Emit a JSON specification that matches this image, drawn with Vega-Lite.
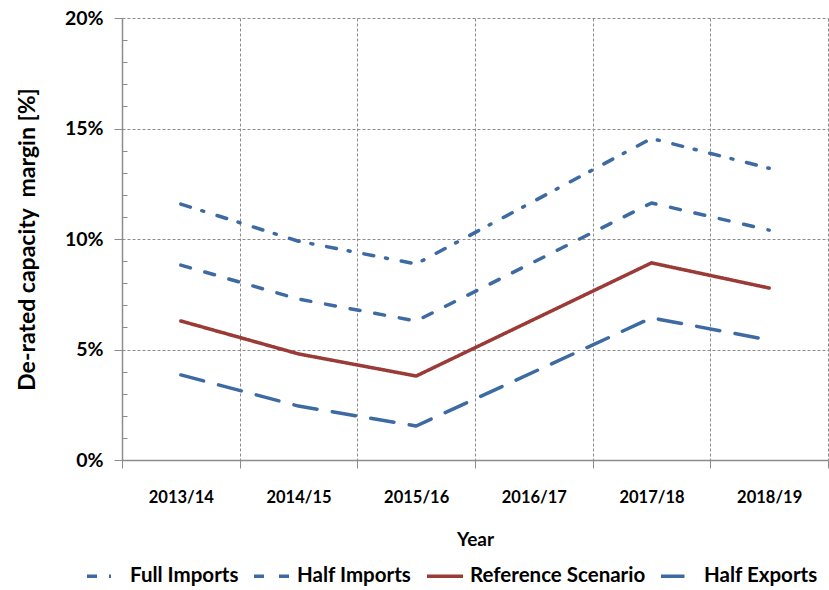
{
  "$schema": "https://vega.github.io/schema/vega-lite/v6.json",
  "autosize": {"type": "none"},
  "width": 706,
  "height": 442,
  "padding": {"left": 122, "top": 18, "right": 1, "bottom": 130},
  "background": "white",
  "config": {
    "view": {"stroke": null},
    "font": "Lato",
    "axis": {"labelFont": "Lato", "titleFont": "Lato", "labelColor": "black", "titleColor": "black"}
  },
  "data": {
    "values": [
      {"year": "2013/14", "scenario": "Full Imports", "margin": 11.58},
      {"year": "2014/15", "scenario": "Full Imports", "margin": 9.9},
      {"year": "2015/16", "scenario": "Full Imports", "margin": 8.87},
      {"year": "2017/18", "scenario": "Full Imports", "margin": 14.55},
      {"year": "2018/19", "scenario": "Full Imports", "margin": 13.2},
      {"year": "2013/14", "scenario": "Half Imports", "margin": 8.82},
      {"year": "2014/15", "scenario": "Half Imports", "margin": 7.28},
      {"year": "2015/16", "scenario": "Half Imports", "margin": 6.29},
      {"year": "2017/18", "scenario": "Half Imports", "margin": 11.63},
      {"year": "2018/19", "scenario": "Half Imports", "margin": 10.4},
      {"year": "2013/14", "scenario": "Reference Scenario", "margin": 6.29},
      {"year": "2014/15", "scenario": "Reference Scenario", "margin": 4.8},
      {"year": "2015/16", "scenario": "Reference Scenario", "margin": 3.8},
      {"year": "2017/18", "scenario": "Reference Scenario", "margin": 8.92},
      {"year": "2018/19", "scenario": "Reference Scenario", "margin": 7.78},
      {"year": "2013/14", "scenario": "Half Exports", "margin": 3.85},
      {"year": "2014/15", "scenario": "Half Exports", "margin": 2.44},
      {"year": "2015/16", "scenario": "Half Exports", "margin": 1.54},
      {"year": "2017/18", "scenario": "Half Exports", "margin": 6.43},
      {"year": "2018/19", "scenario": "Half Exports", "margin": 5.43}
    ]
  },
  "mark": {"type": "line", "strokeWidth": 3.5, "strokeCap": "round", "strokeJoin": "round"},
  "encoding": {
    "x": {
      "field": "year",
      "type": "ordinal",
      "bandPosition": 0.5,
      "scale": {"type": "band", "domain": ["2013/14", "2014/15", "2015/16", "2016/17", "2017/18", "2018/19"], "paddingInner": 0, "paddingOuter": 0},
      "axis": {
        "title": "Year",
        "tickBand": "extent",
        "labelAngle": 0,
        "labelFontSize": 16.5,
        "labelFontWeight": "bold",
        "labelPadding": 21,
        "tickSize": 8,
        "tickColor": "#8c8c8c",
        "domainColor": "#8c8c8c",
        "domainWidth": 1.5,
        "grid": true,
        "gridColor": "#8c8c8c",
        "gridDash": [3, 2],
        "titleFontSize": 19,
        "titleFontWeight": "bold",
        "titlePadding": 25
      }
    },
    "y": {
      "field": "margin",
      "type": "quantitative",
      "scale": {"domain": [0, 20], "nice": false},
      "axis": {
        "title": "De-rated capacity\u00a0 margin [%]",
        "values": [0, 1, 2, 3, 4, 5, 6, 7, 8, 9, 10, 11, 12, 13, 14, 15, 16, 17, 18, 19, 20],
        "labelExpr": "datum.value % 5 === 0 ? datum.value + '%' : ''",
        "labelFontSize": 19.5,
        "labelFontWeight": "bold",
        "labelPadding": 11,
        "tickSize": {"condition": {"test": "datum.value % 5 === 0", "value": 8}, "value": -5},
        "tickColor": "#8c8c8c",
        "domainColor": "#8c8c8c",
        "domainWidth": 1.5,
        "grid": true,
        "gridColor": "#8c8c8c",
        "gridDash": [3, 2],
        "gridOpacity": {"condition": {"test": "datum.value % 5 === 0 && datum.value > 0", "value": 1}, "value": 0},
        "titleFontSize": 23,
        "titleFontWeight": "bold",
        "titlePadding": 25
      }
    },
    "color": {
      "field": "scenario",
      "type": "nominal",
      "scale": {
        "domain": ["Full Imports", "Half Imports", "Reference Scenario", "Half Exports"],
        "range": ["#3D6AA2", "#3D6AA2", "#9A3B37", "#3D6AA2"]
      },
      "legend": {
        "title": null,
        "orient": "none",
        "direction": "horizontal",
        "legendX": -37,
        "legendY": 538,
        "symbolType": "stroke",
        "symbolSize": 1296,
        "symbolStrokeWidth": 3.5,
        "labelFontSize": 20.5,
        "labelFontWeight": "bold",
        "labelFont": "Lato",
        "labelColor": "black",
        "labelOffset": 5,
        "columnPadding": 8,
        "labelLimit": 300
      }
    },
    "strokeDash": {
      "field": "scenario",
      "type": "nominal",
      "scale": {
        "domain": ["Full Imports", "Half Imports", "Reference Scenario", "Half Exports"],
        "range": [[10, 12, 2, 14], [10, 15], [1, 0], [23.5, 15.5]]
      },
      "legend": {
        "title": null,
        "orient": "none",
        "direction": "horizontal",
        "legendX": -37,
        "legendY": 538,
        "symbolType": "stroke",
        "symbolSize": 1296,
        "symbolStrokeWidth": 3.5,
        "labelFontSize": 20.5,
        "labelFontWeight": "bold",
        "labelFont": "Lato",
        "labelColor": "black",
        "labelOffset": 5,
        "columnPadding": 8,
        "labelLimit": 300
      }
    }
  }
}
